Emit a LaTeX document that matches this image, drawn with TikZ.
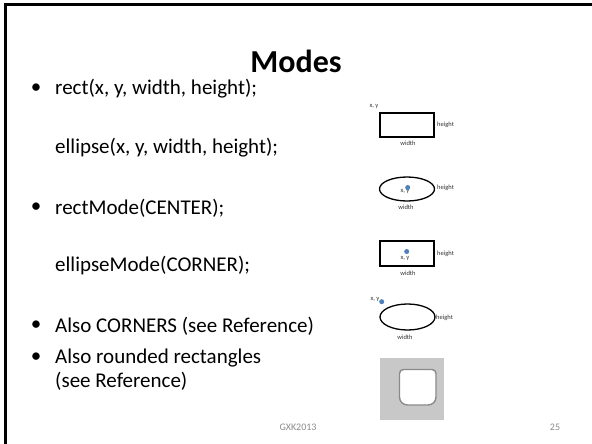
\documentclass[tikz,border=0pt]{standalone}
\usepackage{fontspec}
\setmainfont{Carlito}
\definecolor{dotblue}{HTML}{4F81BD}
\definecolor{foot}{HTML}{8C8C8C}
\definecolor{panel}{HTML}{C8C8C8}
\definecolor{rim}{HTML}{8A8A8A}
\tikzset{
  body/.style={anchor=west, inner sep=0pt, font=\fontsize{21}{25}\selectfont},
  bul/.style={anchor=center, inner sep=0pt, font=\fontsize{21}{25}\selectfont},
  tiny/.style={inner sep=0pt, font=\fontsize{6.5}{7}\selectfont, text=black!80},
  shapeline/.style={draw=black, line width=1.3pt},
  dot/.style={circle, fill=dotblue, inner sep=0pt, minimum size=5pt},
  footer/.style={inner sep=0pt, text=foot, font=\fontsize{10}{12}\selectfont}
}
\begin{document}
\begin{tikzpicture}[x=1pt, y=-1pt]
\useasboundingbox (0,0) rectangle (592,444);
\fill[white] (0,0) rectangle (592,444);
% slide frame: heavy rules along the top and left edges
\fill[black] (3.5,3) rectangle (592,6);
\fill[black] (3.5,3) rectangle (6.5,444);

% title
\node[inner sep=0pt, font=\fontsize{32}{36}\bfseries\selectfont] (title) at (296,61) {Modes};

% bullet text
\node[bul] (b1) at (36,89) {•};
\node[body] (t1) at (55,89) {rect(x, y, width, height);};
\node[body] (t2) at (55,148) {ellipse(x, y, width, height);};
\node[bul] (b2) at (36,208) {•};
\node[body] (t3) at (55,208) {rectMode(CENTER);};
\node[body] (t4) at (55,266) {ellipseMode(CORNER);};
\node[bul] (b3) at (36,326) {•};
\node[body] (t5) at (55,326) {Also CORNERS (see Reference)};
\node[bul] (b4) at (36,358) {•};
\node[body] (t6) at (55,358) {Also rounded rectangles};
\node[body] (t7) at (55,381) {(see Reference)};

% rect(x, y, width, height)
\draw[shapeline] (380,113) rectangle (434,137);
\node[tiny] (r1xy) at (374,106) {x, y};
\node[tiny, anchor=west] (r1h) at (437,125) {height};
\node[tiny] (r1w) at (408,143) {width};

% ellipse(x, y, width, height)
\draw[shapeline] (407,189) ellipse [x radius=27.5, y radius=12];
\node[tiny] (e1xy) at (405,191.5) {x, y};
\node[dot] (e1d) at (407.7,187.5) {};
\node[tiny, anchor=west] (e1h) at (437,188) {height};
\node[tiny] (e1w) at (406,207) {width};

% rectMode(CENTER)
\draw[shapeline] (380,241) rectangle (434,266);
\node[dot] (r2d) at (406.7,251.5) {};
\node[tiny] (r2xy) at (405,258.5) {x, y};
\node[tiny, anchor=west] (r2h) at (437,254) {height};
\node[tiny] (r2w) at (408,273) {width};

% ellipseMode(CORNER)
\draw[shapeline] (407.5,317) ellipse [x radius=27.5, y radius=13];
\node[tiny] (e2xy) at (375,299.5) {x, y};
\node[dot] (e2d) at (381.7,301.7) {};
\node[tiny, anchor=west] (e2h) at (436,318) {height};
\node[tiny] (e2w) at (405,337) {width};

% rounded rectangle sample (y axis points down, so angles run clockwise)
\fill[panel] (380,358) rectangle (443.5,420);
\draw[rim, line width=1.4pt, fill=white]
  (403.5,369.5) -- (432,369.5) arc[start angle=-90, end angle=0, radius=4]
  -- (436,397) arc[start angle=0, end angle=90, radius=8]
  -- (407.5,405) arc[start angle=90, end angle=180, radius=8]
  -- (399.5,373.5) arc[start angle=180, end angle=270, radius=4] -- cycle;

% footer
\node[footer] (fl) at (298,427) {GXK2013};
\node[footer] (fn) at (555,427) {25};
\end{tikzpicture}
\end{document}
